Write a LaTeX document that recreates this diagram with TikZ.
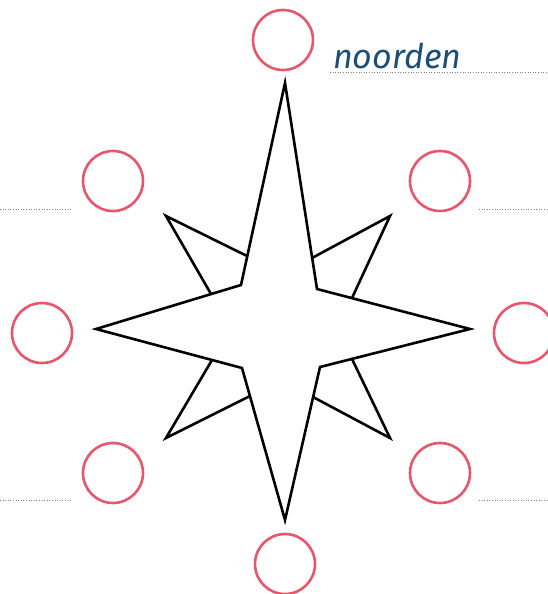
\documentclass[tikz,border=0pt]{standalone}
\usepackage{fontspec}
\newfontfamily\handfont{Fira Sans}
\definecolor{roodrand}{HTML}{E9566B}
\definecolor{inktblauw}{HTML}{1B4F7A}
\tikzset{
  kring/.style={draw=roodrand,line width=2.6pt},
  stippel/.style={draw=gray,line width=0.6pt,dotted},
  ster/.style={draw=black,line width=2.6pt,line join=miter}
}
\begin{document}
\begin{tikzpicture}[x=1pt,y=-1pt]
\useasboundingbox (0,0) rectangle (548,594);
% windroos
\draw[ster] (285,83)--(317,289)--(470,329)--(320,367)--(285,520)--(242,368)--(96,329)--(241,285)--cycle;
\draw[ster] (247,256)--(166,216)--(211,294);
\draw[ster] (312,258)--(390,216)--(352,298);
\draw[ster] (352,359)--(390,438)--(313,397);
\draw[ster] (212,360)--(166,438)--(250,396);
% kringen
\foreach \cx/\cy in {283/40,285/564,42/333,524/333,113/181,440/181,113/473,440/473}
  \draw[kring] (\cx,\cy) circle (30);
% stippellijnen
\draw[stippel] (0,209)--(71,209) (0,500)--(71,500);
\draw[stippel] (479,209)--(548,209) (479,500)--(548,500);
\draw[stippel] (330,72)--(548,72);
\node[anchor=base west,inner sep=0pt,text=inktblauw,font=\handfont\itshape\fontsize{34}{34}\selectfont] (noord) at (333,69) {noorden};
\end{tikzpicture}
\end{document}
